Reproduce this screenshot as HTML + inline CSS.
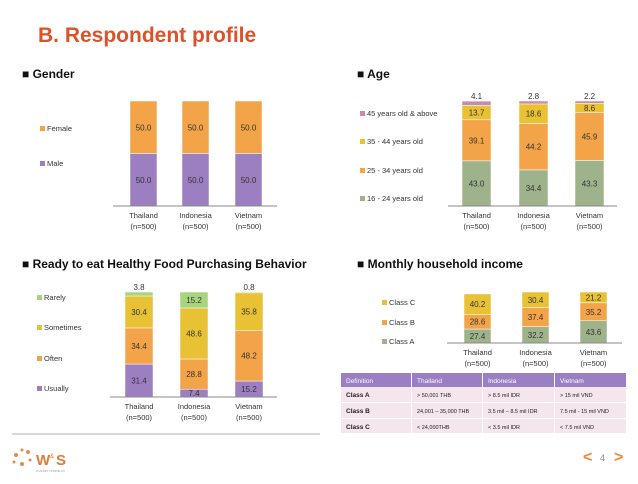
<!DOCTYPE html>
<html><head><meta charset="utf-8"><style>
body{margin:0;width:638px;height:479px;background:#fff;overflow:hidden;font-family:"Liberation Sans",sans-serif}
svg text{font-family:"Liberation Sans",sans-serif}
</style></head><body>
<svg id="s" width="638" height="479" xmlns="http://www.w3.org/2000/svg">
<text x="38" y="42" font-size="21" font-weight="bold" fill="#d9532b">B. Respondent profile</text>
<g font-size="12" font-weight="bold" fill="#111">
<text x="22" y="78">■ Gender</text>
<text x="357" y="78">■ Age</text>
<text x="22" y="268">■  Ready to eat Healthy Food Purchasing Behavior</text>
<text x="357" y="268">■ Monthly household income</text>
</g>
<line x1="12" y1="434" x2="320" y2="434" stroke="#ccc" stroke-width="1.5"/>
<g>
<circle cx="16" cy="455" r="2" fill="#e8894a"/><circle cx="22" cy="450" r="1.5" fill="#e8894a"/><circle cx="28" cy="452" r="2" fill="#e8894a"/><circle cx="14" cy="462" r="1.5" fill="#e8894a"/><circle cx="22" cy="464" r="2" fill="#e8894a"/><circle cx="30" cy="460" r="1.5" fill="#e8894a"/>
<text x="36" y="465" font-size="15" font-weight="bold" fill="#e07b3c">W</text><text x="50" y="458" font-size="6" fill="#e07b3c">&amp;</text><text x="56" y="465" font-size="15" font-weight="bold" fill="#e07b3c">S</text>
<text x="36" y="472" font-size="4" fill="#aaa">market research</text>
</g>
<g>
<text x="583" y="462" font-size="16" font-weight="bold" fill="#f08a2c">&lt;</text>
<text x="600" y="461" font-size="9" fill="#888">4</text>
<text x="614" y="462" font-size="16" font-weight="bold" fill="#f08a2c">&gt;</text>
</g>
<g id="tbl"></g>
</svg>
<script>
const countries=["Thailand","Indonesia","Vietnam"];
const genderSeries=["Male","Female"];
const genderMale=[50.0,50.0,50.0];
const genderFemale=[50.0,50.0,50.0];
const ageSeries=["16 - 24 years old","25 - 34 years old","35 - 44 years old","45 years old & above"];
const age1624=[43.0,34.4,43.3];
const age2534=[39.1,44.2,45.9];
const age3544=[13.7,18.6,8.6];
const age45=[4.1,2.8,2.2];
const buySeries=["Usually","Often","Sometimes","Rarely"];
const buyUsually=[31.4,7.4,15.2];
const buyOften=[34.4,28.8,48.2];
const buySometimes=[30.4,48.6,35.8];
const buyRarely=[3.8,15.2,0.8];
const incSeries=["Class A","Class B","Class C"];
const incA=[27.4,32.2,43.6];
const incB=[28.6,37.4,35.2];
const incC=[40.2,30.4,21.2];
const tableHeader=["Definition","Thailand","Indonesia","Vietnam"];
const tableRows=[["Class A","> 50,001 THB","> 8.5 mil IDR","> 15 mil VND"],["Class B","24,001 – 35,000 THB","3.5 mil – 8.5 mil IDR","7.5 mil - 15 mil VND"],["Class C","< 24,000THB","< 3.5 mil IDR","< 7.5 mil VND"]];

const NS="http://www.w3.org/2000/svg";
const svg=document.getElementById('s');
function mk(tag,attrs,parent){const e=document.createElementNS(NS,tag);for(const k in attrs)e.setAttribute(k,attrs[k]);(parent||svg).appendChild(e);return e;}

function chart(cfg){
  const g=mk('g',{});
  
  
  const total=100;
  const y=v=>cfg.base-(v/total)*(cfg.base-cfg.top);
  countries.forEach((c,i)=>{
    const x=cfg.xs[i];let acc=0;
    cfg.series.forEach((arr,si)=>{
      const v=arr[i];const y0=y(acc),y1=y(acc+v);
      const r=mk('rect',{x:x,y:y1,width:cfg.bw,height:Math.max(0,y0-y1),fill:cfg.colors[si],stroke:'#fff','stroke-width':0.5},g);
      
      
      const small=v<5;
      const t=mk('text',{x:x+cfg.bw/2,y:small?y1-2:(y0+y1)/2+3,'font-size':8,'text-anchor':'middle',fill:'#333'},g);
      t.textContent=v.toFixed(1);
      
      
      acc+=v;
    });
    const l1=mk('text',{x:x+cfg.bw/2,y:cfg.base+12,'font-size':7.5,'text-anchor':'middle',fill:'#333'},g);
    l1.textContent=c;
    
    
    const l2=mk('text',{x:x+cfg.bw/2,y:cfg.base+23,'font-size':7.5,'text-anchor':'middle',fill:'#333'},g);
    l2.textContent='(n=500)';
    
    
  });
  const ax=mk('line',{x1:cfg.ax[0],x2:cfg.ax[1],y1:cfg.base,y2:cfg.base,stroke:'#888','stroke-width':1},g);
  
  
  cfg.names.forEach((n,si)=>{
    const ly=cfg.legY[si];
    const sq=mk('rect',{x:cfg.legX,y:ly-5,width:5,height:5,fill:cfg.colors[si]},g);
    
    
    const t=mk('text',{x:cfg.legX+7,y:ly,'font-size':7.5,fill:'#333'},g);
    t.textContent=n;
    
    
  });
}
const P='#9b7fc1',O='#f4a448',Y='#e8c234',G='#9eb38c',K='#c98aae',LG='#a8d47e';
chart({name:'gender-chart',key:'gender',series:[genderMale,genderFemale],names:genderSeries,colors:[P,O],xs:[130,182,235],bw:27,top:101,base:206,ax:[113,277],legX:40,legY:[166,131]});
chart({name:'age-chart',key:'age',series:[age1624,age2534,age3544,age45],names:ageSeries,colors:[G,O,Y,K],xs:[462,519,575],bw:29,top:101,base:206,ax:[448,617],legX:360,legY:[201,173,144,116]});
chart({name:'purchasing-chart',key:'purchase',series:[buyUsually,buyOften,buySometimes,buyRarely],names:buySeries,colors:[P,O,Y,LG],xs:[125,180,235],bw:28,top:292,base:397,ax:[110,277],legX:37,legY:[300,330,361,391].reverse()});
chart({name:'income-chart',key:'income',series:[incA,incB,incC],names:incSeries,colors:[G,O,Y],xs:[464,522,580],bw:27,top:292,base:343,ax:[447,622],legX:382,legY:[344,325,305]});

const tbl=document.getElementById('tbl');
const cx=[341,412,483,555,627];
const rowsY=[373,387,403,419,434];
tableHeader.forEach((h,i)=>{
  const r=mk('rect',{x:cx[i],y:373,width:cx[i+1]-cx[i]-1,height:14,fill:'#9a7fc3'},tbl);
  
  
  const t=mk('text',{x:cx[i]+5,y:383,'font-size':6.5,fill:'#fff'},tbl);
  t.textContent=h;
  
  
});
tableRows.forEach((row,ri)=>{
  row.forEach((v,ci)=>{
    const r=mk('rect',{x:cx[ci],y:rowsY[ri+1],width:cx[ci+1]-cx[ci]-1,height:rowsY[ri+2]-rowsY[ri+1]-1,fill:'#f4e6ec'},tbl);
    
    
    const t=mk('text',{x:cx[ci]+5,y:rowsY[ri+1]+10,'font-size':ci==0?6.5:5.5,'font-weight':ci==0?'bold':'normal',fill:'#222'},tbl);
    t.textContent=v;
    
    
  });
});
</script>
</body></html>
